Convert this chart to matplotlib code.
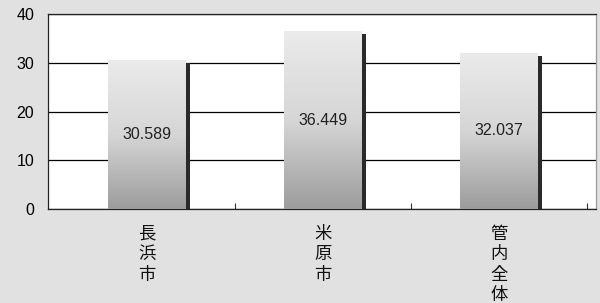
import numpy as np
import matplotlib.pyplot as plt
from matplotlib.colors import LinearSegmentedColormap

plt.rcParams['font.family'] = ['Noto Sans CJK JP', 'DejaVu Sans']

categories = ["長浜市", "米原市", "管内全体"]
values = [30.589, 36.449, 32.037]
yticks = [0, 10, 20, 30, 40]

fig = plt.figure(figsize=(6, 3.03), dpi=100)
fig.patch.set_facecolor("#e1e1e1")
ax = fig.add_axes([0.08, 0.31, 0.913, 0.644])
ax.set_facecolor("white")

x = np.arange(len(categories))
width = 0.44

# dark shadow strip on the right side of each bar
ax.bar(x + width / 2, np.array(values) - 0.6, width=0.025, align="edge",
       color="#2a2a2a", zorder=2)

# gradient bars
cmap = LinearSegmentedColormap.from_list("bar", ["#ebebeb", "#d6d6d6", "#9c9c9c"])
grad = np.linspace(0, 1, 256).reshape(-1, 1)
bars = ax.bar(x, values, width=width, color="none", zorder=3)
for b in bars:
    x0 = b.get_x()
    im = ax.imshow(grad, cmap=cmap, aspect="auto",
                   extent=[x0, x0 + b.get_width(), 0, b.get_height()],
                   origin="upper", zorder=3)
    im.set_clip_path(b)

for xi, v in zip(x, values):
    ax.text(xi, v / 2, f"{v:.3f}", ha="center", va="center", fontsize=11.5,
            color="#222222", family="Liberation Sans", zorder=4)

for xi, c in zip(x, categories):
    ax.text(xi, -3.2, "\n".join(c), ha="center", va="top", fontsize=12.5,
            linespacing=1.18, color="#111111")

ax.set_xlim(-0.5625, 2.55)
ax.set_ylim(0, 40)
ax.set_yticks(yticks)
ax.set_yticklabels([str(t) for t in yticks], fontsize=11.5, family="Liberation Sans")
ax.yaxis.grid(True, color="black", linewidth=0.9)
ax.set_axisbelow(True)
ax.tick_params(axis="y", length=0, pad=10)
ax.set_xticks(x + 0.5)
ax.set_xticklabels([])
ax.tick_params(axis="x", direction="in", length=4, color="#333333")
for s in ax.spines.values():
    s.set_color("#222222")
    s.set_linewidth(0.9)
ax.spines["right"].set_color("#999999")

fig.savefig("out.png", dpi=100, facecolor=fig.get_facecolor())
